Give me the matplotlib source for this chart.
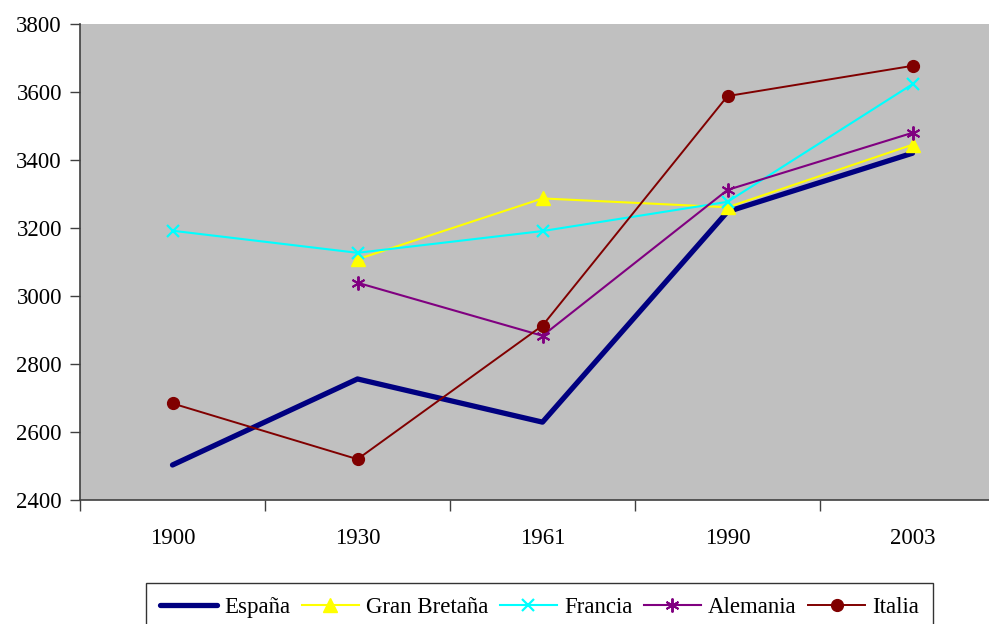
import matplotlib
matplotlib.use("Agg")
import matplotlib.pyplot as plt
import numpy as np

plt.rcParams["font.family"] = ["Liberation Serif", "DejaVu Serif"]
plt.rcParams["font.size"] = 16.5

years = ["1900", "1930", "1961", "1990", "2003"]
espana = [2503, 2756, 2629, 3248, 3420]
gran_bretana = [np.nan, 3108, 3287, 3261, 3445]
francia = [3192, 3127, 3191, 3277, 3623]
alemania = [np.nan, 3039, 2883, 3312, 3480]
italia = [2684, 2520, 2913, 3588, 3677]

fig = plt.figure(figsize=(9.89, 6.24), dpi=100)
ax = fig.add_axes([80 / 989, 124 / 624, 925 / 989, 476 / 624])
ax.set_facecolor("#C0C0C0")

x = np.arange(len(years))
ax.plot(x, espana, color="#000080", lw=3.8, solid_capstyle="round", label="España")
ax.plot(x, gran_bretana, color="#FFFF00", lw=1.5, marker="^", ms=10, mec="#FFFF00", label="Gran Bretaña")
ax.plot(x, francia, color="#00FFFF", lw=1.5, marker="x", ms=9, mew=1.6, label="Francia")
ax.plot(x, alemania, color="#800080", lw=1.5, marker=(6, 2, 0), ms=10, mew=1.4, label="Alemania")
ax.plot(x, italia, color="#800000", lw=1.4, marker="o", ms=8.5, label="Italia")

ax.set_xlim(-0.5, len(years) - 0.5)
ax.set_ylim(2400, 3800)
ax.set_yticks(np.arange(2400, 3801, 200))
ax.set_xticks(x)
ax.set_xticklabels(years)
ax.set_xticks(np.arange(-0.5, len(years), 1.0), minor=True)
ax.tick_params(axis="x", which="major", length=0, pad=20)
ax.tick_params(axis="x", which="minor", length=8, width=1, color="#404040", direction="out")
ax.tick_params(axis="y", length=7, width=1, color="#404040", direction="out", pad=6)

for s in ["top", "right"]:
    ax.spines[s].set_visible(False)
for s in ["left", "bottom"]:
    ax.spines[s].set_color("#404040")
    ax.spines[s].set_linewidth(1.2)

leg = fig.legend(loc="upper center", bbox_to_anchor=(0.5455, 41 / 624), ncol=5,
                 frameon=True, fancybox=False, edgecolor="black", handlelength=2.5,
                 columnspacing=0.5, handletextpad=0.3, borderpad=0.6, borderaxespad=0,
                 fontsize=16.5)
leg.get_frame().set_linewidth(1.0)

fig.savefig("out.png", dpi=100)
